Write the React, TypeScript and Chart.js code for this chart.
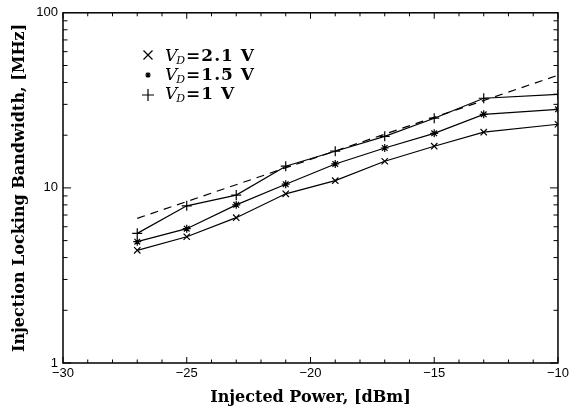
import React, { useEffect, useRef } from "react";
import { Chart, registerables } from "chart.js";

Chart.register(...registerables);

const injectedPower = [-27, -25, -23, -21, -19, -17, -15, -13, -10];
const bwVd21 = [4.4, 5.26, 6.76, 9.25, 11.0, 14.2, 17.3, 20.8, 23.1];
const bwVd15 = [4.93, 5.85, 8.0, 10.5, 13.7, 16.9, 20.5, 26.3, 28.1];
const bwVd10 = [5.5, 7.9, 9.1, 13.3, 16.2, 19.7, 25.0, 32.5, 34.2];
const fitPower = [-27, -10];
const fitBw = [6.7, 44];
const xTickValues = [-30, -25, -20, -15, -10];
const yTickValues = [1, 10, 100];
const legendLabels = ["2.1 V", "1.5 V", "1 V"];

const toPts = (xs: number[], ys: number[]) => xs.map((x, i) => ({ x, y: ys[i] }));

const framePlugin = {
  id: "frame",
  afterDraw(chart: any) {
    const { ctx, chartArea } = chart;
    const { left, right, top, bottom } = chartArea;
    const xs = chart.scales.x;
    const ys = chart.scales.y;
    ctx.save();
    ctx.strokeStyle = "#000";
    ctx.lineWidth = 1.5;
    ctx.strokeRect(left, top, right - left, bottom - top);
    ctx.lineWidth = 1;
    ctx.beginPath();
    for (let v = -30; v <= -10; v++) {
      const px = xs.getPixelForValue(v);
      const len = v % 5 === 0 ? 6 : 3.5;
      ctx.moveTo(px, bottom);
      ctx.lineTo(px, bottom - len);
      ctx.moveTo(px, top);
      ctx.lineTo(px, top + len);
    }
    for (let d = 1; d < 100; d *= 10) {
      for (let m = 1; m <= 9; m++) {
        const v = d * m;
        const py = ys.getPixelForValue(v);
        const len = m === 1 ? 8 : 4.5;
        ctx.moveTo(left, py);
        ctx.lineTo(left + len, py);
        ctx.moveTo(right, py);
        ctx.lineTo(right - len, py);
      }
    }
    ctx.stroke();
    ctx.restore();
  },
};

const legendPlugin = {
  id: "customLegend",
  afterDraw(chart: any) {
    const { ctx } = chart;
    const styles = ["crossRot", "star", "cross"];
    const baseX = 148;
    const baseY = 55;
    const step = 19;
    ctx.save();
    ctx.strokeStyle = "#000";
    ctx.fillStyle = "#000";
    ctx.lineWidth = 1.2;
    styles.forEach((st, i) => {
      const cy = baseY + i * step;
      const r = 4.5;
      ctx.beginPath();
      if (st === "crossRot") {
        ctx.moveTo(baseX - r, cy - r);
        ctx.lineTo(baseX + r, cy + r);
        ctx.moveTo(baseX + r, cy - r);
        ctx.lineTo(baseX - r, cy + r);
      } else if (st === "star") {
        const rs = 2.8;
        ctx.moveTo(baseX - rs, cy + 1);
        ctx.lineTo(baseX + rs, cy + 1);
        ctx.moveTo(baseX, cy + 1 - rs);
        ctx.lineTo(baseX, cy + 1 + rs);
        ctx.moveTo(baseX - rs * 0.7, cy + 1 - rs * 0.7);
        ctx.lineTo(baseX + rs * 0.7, cy + 1 + rs * 0.7);
        ctx.moveTo(baseX + rs * 0.7, cy + 1 - rs * 0.7);
        ctx.lineTo(baseX - rs * 0.7, cy + 1 + rs * 0.7);
      } else {
        const rp = 6;
        ctx.moveTo(baseX - rp, cy + 2);
        ctx.lineTo(baseX + rp, cy + 2);
        ctx.moveTo(baseX, cy + 2 - rp);
        ctx.lineTo(baseX, cy + 2 + rp);
      }
      ctx.stroke();
      let tx = 165;
      ctx.textBaseline = "alphabetic";
      ctx.textAlign = "left";
      (ctx as any).letterSpacing = "0px";
      ctx.font = "italic 17px 'DejaVu Serif'";
      ctx.fillText("V", tx, cy + 6);
      tx += ctx.measureText("V").width - 1;
      ctx.font = "italic 11px 'DejaVu Serif'";
      ctx.fillText("D", tx, cy + 9);
      tx += ctx.measureText("D").width + 1;
      ctx.font = "bold 17px 'DejaVu Serif'";
      (ctx as any).letterSpacing = "1px";
      ctx.fillText("=" + legendLabels[i], tx, cy + 6);
    });
    ctx.restore();
  },
};

export default function App() {
  const ref = useRef<HTMLCanvasElement | null>(null);
  useEffect(() => {
    document.body.style.margin = "0";
    if (!ref.current) return;
    const lineBase = {
      borderColor: "#000",
      backgroundColor: "#000",
      borderWidth: 1.2,
      pointBorderColor: "#000",
      pointBorderWidth: 1.2,
      pointRadius: 4.5,
      fill: false,
      tension: 0,
    };
    const chart = new Chart(ref.current, {
      type: "line",
      data: {
        datasets: [
          { ...lineBase, label: "VD=2.1 V", data: toPts(injectedPower, bwVd21), pointStyle: "crossRot" },
          { ...lineBase, label: "VD=1.5 V", data: toPts(injectedPower, bwVd15), pointStyle: "star", pointRadius: 4 },
          { ...lineBase, label: "VD=1 V", data: toPts(injectedPower, bwVd10), pointStyle: "cross", pointRadius: 5 },
          {
            label: "fit",
            data: toPts(fitPower, fitBw),
            borderColor: "#000",
            borderWidth: 1.2,
            borderDash: [8, 6],
            pointRadius: 0,
            fill: false,
          },
        ],
      } as any,
      options: {
        responsive: false,
        animation: false,
        layout: { padding: { top: 11, right: 11, left: 0, bottom: 0 } },
        plugins: { legend: { display: false }, tooltip: { enabled: false } },
        scales: {
          x: {
            type: "linear",
            min: -30,
            max: -10,
            afterBuildTicks: (s: any) => {
              s.ticks = xTickValues.map((v) => ({ value: v }));
            },
            afterFit: (s: any) => {
              s.height = 50;
            },
            ticks: {
              callback: (v: any) => (v < 0 ? "\u2212" + Math.abs(v) : String(v)),
              font: { family: "'Liberation Sans'", size: 13 },
              color: "#000",
              padding: 3,
              maxRotation: 0,
              autoSkip: false,
            },
            grid: { display: false, drawTicks: false },
            border: { display: false },
            title: {
              display: true,
              text: "Injected Power, [dBm]",
              font: { family: "'DejaVu Serif'", weight: "bold", size: 16 },
              color: "#000",
              padding: { top: 0, bottom: 6 },
            },
          },
          y: {
            type: "logarithmic",
            min: 1,
            max: 100,
            afterBuildTicks: (s: any) => {
              s.ticks = yTickValues.map((v) => ({ value: v }));
            },
            afterFit: (s: any) => {
              s.width = 63;
            },
            ticks: {
              callback: (v: any) => String(v),
              font: { family: "'Liberation Sans'", size: 13 },
              color: "#000",
              padding: 5,
              autoSkip: false,
            },
            grid: { display: false, drawTicks: false },
            border: { display: false },
            title: {
              display: true,
              text: "Injection Locking Bandwidth, [MHz]",
              font: { family: "'DejaVu Serif'", weight: "bold", size: 16 },
              color: "#000",
              padding: { top: 10, bottom: 0 },
            },
          },
        },
      } as any,
      plugins: [framePlugin, legendPlugin],
    });
    return () => chart.destroy();
  }, []);
  return <canvas ref={ref} width={572} height={413} style={{ display: "block" }} />;
}
